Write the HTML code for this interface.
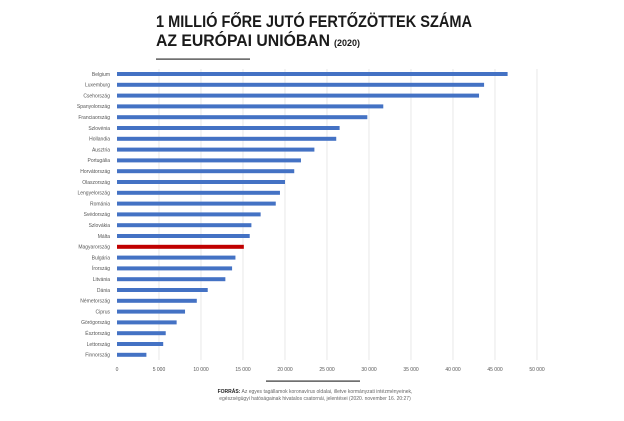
<!DOCTYPE html>
<html><head><meta charset="utf-8"><style>
body{margin:0;background:#fff;width:624px;height:416px;overflow:hidden;font-family:"Liberation Sans",sans-serif;}
</style></head><body>
<svg width="624" height="416" xmlns="http://www.w3.org/2000/svg">
<text x="156" y="27" font-size="16.5" font-weight="bold" fill="#1a1a1a" textLength="316" lengthAdjust="spacingAndGlyphs">1 MILLIÓ FŐRE JUTÓ FERTŐZÖTTEK SZÁMA</text>
<text x="156" y="46" font-size="16.5" font-weight="bold" fill="#1a1a1a" textLength="174" lengthAdjust="spacingAndGlyphs">AZ EURÓPAI UNIÓBAN</text>
<text x="334" y="46" font-size="9" font-weight="bold" fill="#1a1a1a">(2020)</text>
<rect x="156" y="58.5" width="94" height="1.2" fill="#333"/>
<g id="grid" stroke="#e2e2e2" stroke-width="0.8"></g>
<g id="bars"></g>
<g id="labels" font-size="5" fill="#555" text-anchor="end"></g>
<g id="ticks" font-size="5" fill="#555" text-anchor="middle"></g>
<rect x="266" y="380.5" width="94" height="1.2" fill="#333"/>
<text x="315" y="393" font-size="5" fill="#666" text-anchor="middle"><tspan font-weight="bold" fill="#222">FORRÁS:</tspan> Az egyes tagállamok koronavírus oldalai, illetve kormányzati intézményeinek,</text>
<text x="315" y="400" font-size="5" fill="#666" text-anchor="middle">egészségügyi hatóságainak hivatalos csatornái, jelentései (2020. november 16. 20:27)</text>
</svg>
<script>
const d=[["Belgium",46500],["Luxemburg",43700],["Csehország",43100],["Spanyolország",31700],["Franciaország",29800],["Szlovénia",26500],["Hollandia",26100],["Ausztria",23500],["Portugália",21900],["Horvátország",21100],["Olaszország",20000],["Lengyelország",19400],["Románia",18900],["Svédország",17100],["Szlovákia",16000],["Málta",15800],["Magyarország",15100],["Bulgária",14100],["Írország",13700],["Litvánia",12900],["Dánia",10800],["Németország",9500],["Ciprus",8100],["Görögország",7100],["Észtország",5800],["Lettország",5500],["Finnország",3500]];
const ns="http://www.w3.org/2000/svg";
function el(t,a,p,txt){const e=document.createElementNS(ns,t);for(const k in a)e.setAttribute(k,a[k]);if(txt)e.textContent=txt;document.getElementById(p).appendChild(e);}
const x0=117,s=420/50000;
for(let i=0;i<=10;i++){const x=x0+i*5000*s;if(i>0)el("line",{x1:x,x2:x,y1:69,y2:360},"grid");el("text",{x:x,y:371},"ticks",i==0?"0":(i*5)+" 000");}
d.forEach((r,i)=>{const y=74+i*10.8;el("rect",{x:x0,y:y-2,width:r[1]*s,height:4,fill:r[0]=="Magyarország"?"#c00000":"#4472c4"},"bars");el("text",{x:110,y:y+1.8},"labels",r[0]);});
</script>
</body></html>
